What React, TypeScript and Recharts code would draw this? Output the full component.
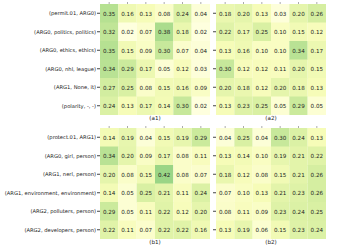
import React from 'react';
import { BarChart, Bar, XAxis, YAxis, Cell, LabelList } from 'recharts';

const rowsA1 = [
  '(permit.01, ARG0)',
  '(ARG0, politics, politics)',
  '(ARG0, ethics, ethics)',
  '(ARG0, nhl, league)',
  '(ARG1, None, it)',
  '(polarity, -, -)',
];
const valuesA1 = [
  [0.35, 0.16, 0.13, 0.08, 0.24, 0.04],
  [0.32, 0.02, 0.07, 0.38, 0.18, 0.02],
  [0.35, 0.15, 0.09, 0.3, 0.07, 0.04],
  [0.34, 0.29, 0.17, 0.05, 0.12, 0.03],
  [0.27, 0.25, 0.08, 0.15, 0.16, 0.09],
  [0.24, 0.13, 0.17, 0.14, 0.3, 0.02],
];
const valuesA2 = [
  [0.18, 0.2, 0.13, 0.03, 0.2, 0.26],
  [0.22, 0.17, 0.25, 0.1, 0.15, 0.12],
  [0.13, 0.16, 0.1, 0.1, 0.34, 0.17],
  [0.3, 0.12, 0.12, 0.11, 0.2, 0.15],
  [0.2, 0.18, 0.12, 0.2, 0.18, 0.13],
  [0.13, 0.23, 0.25, 0.05, 0.29, 0.05],
];
const rowsB1 = [
  '(protect.01, ARG1)',
  '(ARG0, girl, person)',
  '(ARG1, nerl, person)',
  '(ARG1, environment, environment)',
  '(ARG2, polluters, person)',
  '(ARG2, developers, person)',
];
const valuesB1 = [
  [0.14, 0.19, 0.04, 0.15, 0.19, 0.29],
  [0.34, 0.2, 0.09, 0.17, 0.08, 0.11],
  [0.2, 0.08, 0.15, 0.42, 0.08, 0.07],
  [0.14, 0.05, 0.25, 0.21, 0.11, 0.24],
  [0.29, 0.05, 0.11, 0.22, 0.12, 0.2],
  [0.22, 0.11, 0.07, 0.22, 0.22, 0.16],
];
const valuesB2 = [
  [0.04, 0.25, 0.04, 0.3, 0.24, 0.13],
  [0.13, 0.14, 0.1, 0.19, 0.21, 0.22],
  [0.18, 0.12, 0.08, 0.15, 0.21, 0.26],
  [0.07, 0.1, 0.13, 0.21, 0.23, 0.26],
  [0.08, 0.11, 0.09, 0.23, 0.24, 0.25],
  [0.13, 0.19, 0.06, 0.15, 0.23, 0.24],
];
const columns = [0, 1, 2, 3, 4, 5];
const columnTicks = [0.5, 1.5, 2.5, 3.5, 4.5, 5.5];

// YlGn colormap, vmin 0 / vmax 1
const ylgn = ['#ffffe5', '#f7fcb9', '#d9f0a3', '#addd8e', '#78c679', '#41ab5d', '#238443', '#006837', '#004529'];
const hex = (h: string) => [1, 3, 5].map((i) => parseInt(h.slice(i, i + 2), 16));
const colorFor = (v: number) => {
  const t = Math.max(0, Math.min(1, v)) * (ylgn.length - 1);
  const i = Math.min(Math.floor(t), ylgn.length - 2);
  const f = t - i;
  const a = hex(ylgn[i]);
  const b = hex(ylgn[i + 1]);
  return `rgb(${a.map((c, k) => Math.round(c + (b[k] - c) * f)).join(',')})`;
};

const FONT = '"DejaVu Sans", sans-serif';

interface PanelProps {
  rows: string[];
  values: number[][];
  showLabels: boolean;
  left: number;
  top: number;
  caption: string;
}

const Panel: React.FC<PanelProps> = ({ rows, values, showLabels, left, top, caption }) => {
  const yw = showLabels ? 100 : 4;
  const data = rows.map((label) => ({ label }));
  const rowTick = (p: any) =>
    showLabels ? (
      <text x={p.x} y={p.y} textAnchor="end" dominantBaseline="central" fontSize={5.2} fill="#222">
        {p.payload.value}
      </text>
    ) : (
      <g />
    );
  return (
    <div style={{ position: 'absolute', left, top }}>
      <BarChart
        width={yw + 110}
        height={115}
        data={data}
        layout="vertical"
        barCategoryGap={0}
        margin={{ top: 0, right: 0, bottom: 0, left: 0 }}
        style={{ fontFamily: FONT }}
      >
        <XAxis
          type="number"
          orientation="top"
          domain={[0, 6]}
          ticks={columnTicks}
          height={4}
          tickSize={2}
          axisLine={false}
          tickLine={{ stroke: '#aaa' }}
          tickFormatter={() => ''}
        />
        <YAxis
          type="category"
          dataKey="label"
          width={yw}
          interval={0}
          tickSize={3}
          tickMargin={1}
          axisLine={false}
          tickLine={{ stroke: '#444' }}
          tick={rowTick}
        />
        {columns.map((j) => (
          <Bar key={j} dataKey={() => 1} stackId="s" isAnimationActive={false}>
            {rows.map((_, i) => (
              <Cell key={i} fill={colorFor(values[i][j])} />
            ))}
            <LabelList
              content={(p: any) => (
                <text
                  x={p.x + p.width / 2}
                  y={p.y + p.height / 2}
                  textAnchor="middle"
                  dominantBaseline="central"
                  fontSize={5.6}
                  fill="#222"
                >
                  {values[p.index][j].toFixed(2)}
                </text>
              )}
            />
          </Bar>
        ))}
      </BarChart>
      <div
        style={{
          position: 'absolute',
          left: yw,
          width: 110,
          top: 115,
          textAlign: 'center',
          fontFamily: FONT,
          fontSize: 5.6,
          color: '#222',
        }}
      >
        {caption}
      </div>
    </div>
  );
};

export default function App() {
  return (
    <div style={{ position: 'absolute', left: 0, top: 0, width: 350, height: 250, background: '#fff' }}>
      <Panel rows={rowsA1} values={valuesA1} showLabels left={0} top={0} caption="(a1)" />
      <Panel rows={rowsA1} values={valuesA2} showLabels={false} left={212} top={0} caption="(a2)" />
      <Panel rows={rowsB1} values={valuesB1} showLabels left={0} top={124} caption="(b1)" />
      <Panel rows={rowsB1} values={valuesB2} showLabels={false} left={212} top={124} caption="(b2)" />
    </div>
  );
}
